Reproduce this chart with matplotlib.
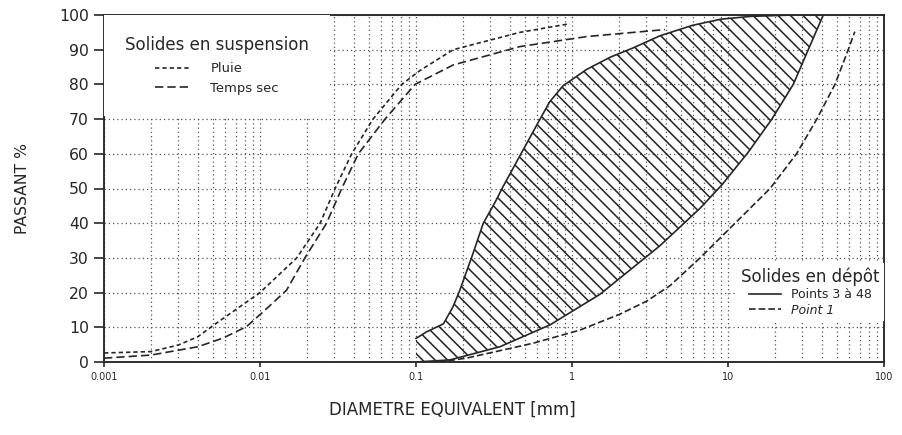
import numpy as np
import matplotlib
matplotlib.use("Agg")
import matplotlib.pyplot as plt
from matplotlib.ticker import LogLocator, FixedLocator, FixedFormatter, NullFormatter

# ---------------- data ----------------
pluie_d = [0.001, 0.002, 0.003, 0.004, 0.005, 0.01, 0.0172, 0.0243, 0.0303,
           0.0387, 0.053, 0.081, 0.106, 0.173, 0.464, 0.97]
pluie_p = [2.6, 3.0, 4.9, 7.3, 10.5, 20.0, 30, 40, 50, 60, 70, 80, 84, 90, 95, 97.5]

sec_d = [0.001, 0.002, 0.004, 0.0058, 0.0082, 0.0105, 0.0148, 0.0194, 0.0267,
         0.0334, 0.0427, 0.0633, 0.0986, 0.173, 0.464, 1.25, 3.95]
sec_p = [1.1, 2.0, 4.4, 6.9, 10.2, 14.5, 20.7, 30, 40, 50, 60, 70, 80, 85.6,
         90.9, 93.8, 95.8]

env_left_d = [0.1, 0.117, 0.150, 0.173, 0.191, 0.228, 0.270, 0.321, 0.361,
              0.471, 0.624, 0.72, 0.876, 1.24, 1.75, 2.46, 3.66, 5.9, 9.0,
              14.0, 26.0]
env_left_p = [6.8, 8.7, 11.0, 16.0, 20.7, 30.3, 40, 46.0, 50.5, 60, 70, 75.0,
              79.6, 84.3, 87.8, 90.5, 94.0, 97.0, 98.8, 99.6, 100]

env_right_d = [0.1, 0.165, 0.345, 0.723, 1.51, 3.66, 6.62, 9.12, 13.5, 19.1,
               26.2, 32.7, 40.8]
env_right_p = [0, 0.6, 4.4, 10.7, 19.5, 33.5, 44.3, 51.0, 60.5, 70, 80, 90, 100]

p1_d = [0.14, 0.21, 0.562, 1.125, 2.03, 3.0, 4.25, 6.62, 11.1, 18.6, 27.5,
        37.1, 48.5, 59.0, 65.0]
p1_p = [0, 1.1, 5.4, 9.2, 13.8, 17.5, 22.0, 30, 40, 50, 60, 70, 80, 90, 95.2]

x_ticks = [0.001, 0.01, 0.1, 1, 10, 100]
x_ticklabels = ["0.001", "0.01", "0.1", "1", "10", "100"]
y_ticks = list(range(0, 101, 10))

# ---------------- figure ----------------
plt.rcParams["font.family"] = ["DejaVu Sans"]
plt.rcParams["hatch.linewidth"] = 0.75
ink = "#262626"

fig = plt.figure(figsize=(903 / 150, 435 / 150), dpi=150)
ax = fig.add_axes([104 / 903, 73 / 435, 780 / 903, 347 / 435])
ax.set_xscale("log")
ax.set_xlim(0.001, 100)
ax.set_ylim(0, 100)

# grid
ax.set_axisbelow(True)
ax.xaxis.set_minor_locator(LogLocator(base=10, subs=range(2, 10)))
ax.xaxis.set_minor_formatter(NullFormatter())
gstyle = dict(color="#555555", linewidth=0.6, linestyle=(0, (1, 2.4)))
ax.grid(True, which="both", axis="x", **gstyle)
ax.grid(True, which="major", axis="y", **gstyle)

# hatched envelope (Points 3 a 48)
poly_x = np.concatenate([env_left_d, env_right_d[::-1]])
poly_y = np.concatenate([env_left_p, env_right_p[::-1]])
ax.fill(poly_x, poly_y, facecolor="none", edgecolor=ink, hatch="\\\\\\\\",
        linewidth=0, zorder=2)

lw = 0.8
l_pluie, = ax.plot(pluie_d, pluie_p, color=ink, lw=lw,
                   linestyle=(0, (2.6, 1.8)), zorder=3, label="Pluie")
l_sec, = ax.plot(sec_d, sec_p, color=ink, lw=lw,
                 linestyle=(0, (5.0, 2.4)), zorder=3, label="Temps sec")
l_env, = ax.plot(env_left_d, env_left_p, color=ink, lw=lw, zorder=3,
                 label="Points 3 à 48")
ax.plot(env_right_d, env_right_p, color=ink, lw=lw, zorder=3)
l_p1, = ax.plot(p1_d, p1_p, color=ink, lw=lw, linestyle=(0, (4.0, 1.8)),
                zorder=3, label="Point 1")

# axes decorations
for s in ax.spines.values():
    s.set_color(ink)
    s.set_linewidth(0.9)
ax.xaxis.set_major_locator(FixedLocator(x_ticks))
ax.xaxis.set_major_formatter(FixedFormatter(x_ticklabels))
ax.yaxis.set_major_locator(FixedLocator(y_ticks))
ax.tick_params(axis="x", which="major", direction="out", length=2.5,
               width=0.8, labelsize=4.6, pad=2.5, colors=ink)
ax.tick_params(axis="x", which="minor", length=0)
ax.tick_params(axis="y", direction="out", length=4.8, width=0.8,
               labelsize=7.5, pad=2.5, colors=ink)

ax.set_ylabel("PASSANT %", fontsize=7.5, color=ink)
ax.yaxis.set_label_coords(-0.095, 0.5)
ax.set_xlabel("DIAMETRE EQUIVALENT [mm]", fontsize=8, color=ink)
ax.xaxis.set_label_coords(0.446, -0.112)

# legends
leg1 = ax.legend(handles=[l_pluie, l_sec], title="Solides en suspension",
                 loc="upper left", bbox_to_anchor=(0.0, 1.0),
                 borderaxespad=0, fontsize=6.3, title_fontsize=8,
                 frameon=True, facecolor="white", edgecolor="white",
                 framealpha=1, fancybox=False, borderpad=1.6,
                 labelspacing=0.5, handlelength=2.6, handletextpad=1.6)
leg1.get_frame().set_linewidth(0)
leg1.set_zorder(5)
leg1._legend_box.sep = 4
for t in leg1.get_texts():
    t.set_color(ink)
leg1.get_title().set_color(ink)
ax.add_artist(leg1)

leg2 = ax.legend(handles=[l_env, l_p1], title="Solides en dépôt",
                 loc="lower right", bbox_to_anchor=(1.0, 0.118),
                 borderaxespad=0, fontsize=6.0, title_fontsize=8,
                 frameon=True, facecolor="white", edgecolor="white",
                 framealpha=1, fancybox=False, borderpad=0.35,
                 labelspacing=0.2, handlelength=2.6, handletextpad=0.8)
leg2.get_frame().set_linewidth(0)
leg2.set_zorder(5)
for t in leg2.get_texts():
    t.set_color(ink)
leg2.get_texts()[1].set_fontstyle("italic")
leg2.get_title().set_color(ink)

fig.savefig("out.png", dpi=150, facecolor="white")
